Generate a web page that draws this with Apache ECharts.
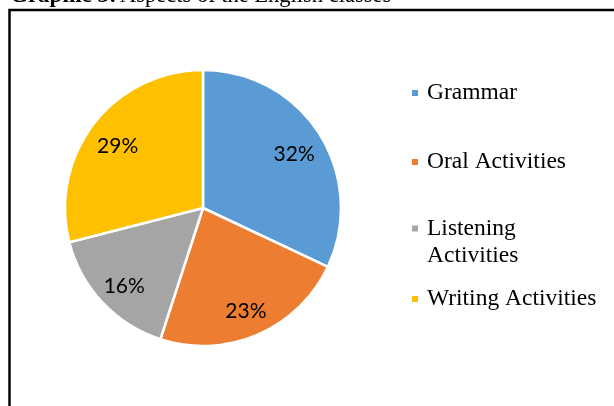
<!DOCTYPE html>
<html>
<head>
<meta charset="utf-8">
<script src="https://cdn.jsdelivr.net/npm/echarts@6/dist/echarts.min.js"></script>
<style>html,body{margin:0;padding:0;background:#fff;}#c{width:614px;height:406px;}</style>
</head>
<body>
<div id="c"></div>
<script>
var categories = ['Grammar', 'Oral Activities', 'Listening Activities', 'Writing Activities'];
var values = [32, 23, 16, 29];
var colors = ['#5B9BD5', '#ED7D31', '#A5A5A5', '#FFC000'];
var titleBold = 'Graphic 3:';
var titleRest = 'Aspects of the English classes';

var chart = echarts.init(document.getElementById('c'), null, {renderer: 'canvas'});
var data = categories.map(function (n, i) {
  return {name: n, value: values[i], itemStyle: {color: colors[i]}};
});
var legendTops = [79.5, 148.5, 188, 285.5];
var legends = categories.map(function (n, i) {
  return {
    data: [n],
    left: 410,
    top: legendTops[i],
    padding: 0,
    orient: 'vertical',
    icon: 'rect',
    itemWidth: 8,
    itemHeight: 8,
    selectedMode: false,
    formatter: function (name) { return name === 'Listening Activities' ? ' \nListening\nActivities' : name; },
    textStyle: {fontFamily: 'Liberation Serif', fontSize: 23.5, color: '#000', lineHeight: 27, padding: [0, 0, 0, 3]}
  };
});

chart.setOption({
  animation: false,
  color: colors,
  graphic: [
    {type: 'rect', shape: {x: 9.5, y: 10, width: 700, height: 500}, style: {fill: 'none', stroke: '#000', lineWidth: 2.5}, silent: true},
    {type: 'text', x: 10, y: -4, style: {
      text: '{b|' + titleBold + '} {n|' + titleRest + '}',
      verticalAlign: 'middle',
      rich: {
        b: {fontFamily: 'Liberation Serif', fontWeight: 'bold', fontSize: 23, fill: '#000'},
        n: {fontFamily: 'Liberation Serif', fontSize: 22.5, fill: '#000'}
      }
    }}
  ],
  legend: legends,
  series: [
    {
      type: 'pie',
      center: [203, 208],
      radius: [0, 138],
      startAngle: 90,
      clockwise: true,
      data: data,
      itemStyle: {borderColor: '#fff', borderWidth: 2.5},
      label: {show: false},
      labelLine: {show: false},
      emphasis: {disabled: true}
    },
    {
      type: 'pie',
      center: [203, 208],
      radius: [72, 138],
      startAngle: 90,
      clockwise: true,
      silent: true,
      data: categories.map(function (n, i) { return {name: n, value: values[i]}; }),
      itemStyle: {color: 'rgba(0,0,0,0)'},
      label: {show: true, position: 'inside', formatter: '{c}%', fontFamily: 'Lato', fontSize: 21, color: '#000', textBorderWidth: 0, offset: [0, 4]},
      labelLine: {show: false},
      emphasis: {disabled: true},
      legendHoverLink: false
    }
  ]
});
</script>
</body>
</html>
